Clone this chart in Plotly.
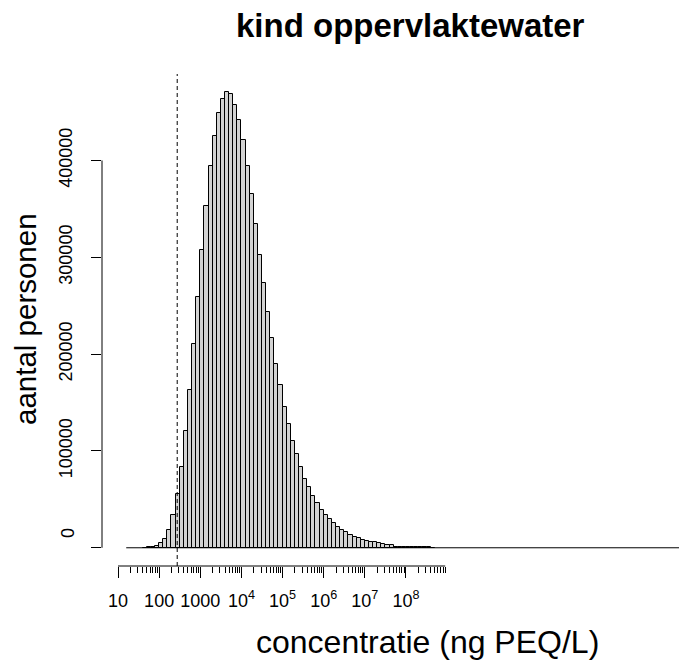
import numpy as np
import plotly.graph_objects as go

# ── DATA ────────────────────────────────────────────────────────
# histogram of log10(concentration), bins of 0.1 decade
bin_start = 1.6
bin_width = 0.1
counts = [100, 300, 900, 1800, 4500, 9300, 18000, 33500, 55800, 83700,
          120900, 162900, 210200, 259400, 307700, 353500, 394800, 425800,
          448800, 464000, 470500, 468800, 457000, 442300, 421100, 394000,
          365100, 334400, 302700, 273400, 243300, 216400, 190200, 167900,
          145100, 128200, 110600, 96500, 83700, 71300, 62400, 53400, 46500,
          39300, 34100, 29400, 25200, 21400, 18300, 15900, 13100, 11100,
          10000, 8300, 7200, 5900, 5600, 4500, 3800, 3100, 2500, 1300, 1200,
          1100, 1000, 600, 500, 400, 350, 300, 250]
breaks_lo = 1.2     # first break (empty bins drawn as baseline)
breaks_hi = 15.9    # last break
threshold = 275     # ng PEQ/L, dashed line

tick_pos = [1, 2, 3, 4, 5, 6, 7, 8]
tick_text = ['10', '100', '1000', '10<sup>4</sup>', '10<sup>5</sup>',
             '10<sup>6</sup>', '10<sup>7</sup>', '10<sup>8</sup>']
y_ticks = [0, 100000, 200000, 300000, 400000]

# ── FIGURE ──────────────────────────────────────────────────────
FONT = 'Liberation Sans, Arial, sans-serif'
centers = [bin_start + (i + 0.5) * bin_width for i in range(len(counts))]
minor_ticks = [k + np.log10(m) for k in range(1, 9) for m in range(2, 10)]

# page has an 8px body margin, so the plot box is placed 8px up/left
PW, PH = 593, 492          # plot area size in px
def px(x):  # screen x -> paper
    return (x - 102) / PW
def py(y):  # screen y -> paper
    return (566 - y) / PH

fig = go.Figure()
fig.add_trace(go.Scatter(
    x=[breaks_lo, breaks_hi], y=[0, 0], mode='lines',
    line=dict(color='black', width=1), hoverinfo='skip'
))
fig.add_trace(go.Bar(
    x=centers, y=counts, width=bin_width,
    marker=dict(color='#d3d3d3', line=dict(color='black', width=1))
))

# dashed threshold line
fig.add_shape(type='line', xref='x', yref='paper',
              x0=np.log10(threshold), x1=np.log10(threshold), y0=0, y1=1,
              line=dict(color='black', width=1, dash='4px,3px'))
# R-style axis lines, only over the tick range
fig.add_shape(type='line', xref='x', yref='paper',
              x0=tick_pos[0], x1=minor_ticks[-1], y0=0, y1=0,
              line=dict(color='black', width=1))
fig.add_shape(type='line', xref='paper', yref='y',
              x0=0, x1=0, y0=y_ticks[0], y1=y_ticks[-1],
              line=dict(color='black', width=1))

# R nudges the "0" label up, away from the x axis
y_text = ['' if v == 0 else str(v) for v in y_ticks]

fig.update_layout(
    width=687, height=660,
    margin=dict(l=94, r=0, t=66, b=102, autoexpand=False),
    plot_bgcolor='white', paper_bgcolor='white',
    showlegend=False, bargap=0,
    font=dict(family=FONT, color='black', size=18),
    xaxis=dict(
        range=[0.6111, 0.6111 + PW / 41.14], showgrid=False, zeroline=False,
        showline=False, tickmode='array', tickvals=tick_pos,
        ticktext=tick_text, ticks='outside', ticklen=11,
        tickcolor='black', ticklabelstandoff=7, automargin=False,
        tickfont=dict(size=18),
        minor=dict(tickmode='array', tickvals=minor_ticks,
                   ticks='outside', ticklen=6, tickcolor='black'),
    ),
    yaxis=dict(
        range=[-18820, 489320], showgrid=False, zeroline=False,
        showline=False, tickmode='array', tickvals=y_ticks,
        ticktext=y_text, ticks='outside', ticklen=10,
        tickcolor='black', tickangle=-90, ticklabelstandoff=12,
        automargin=False, tickfont=dict(size=18),
    ),
    annotations=[
        dict(text='<b>kind oppervlaktewater</b>', xref='paper', yref='paper',
             x=px(410), y=py(26), showarrow=False,
             xanchor='center', yanchor='middle', font=dict(size=33)),
        dict(text='concentratie (ng PEQ/L)', xref='paper', yref='paper',
             x=px(427), y=py(642), showarrow=False,
             xanchor='center', yanchor='middle', font=dict(size=32)),
        dict(text='aantal personen', xref='paper', yref='paper',
             x=px(25), y=py(319), showarrow=False,
             xanchor='center', yanchor='middle', textangle=-90,
             font=dict(size=29.5)),
        dict(text=str(y_ticks[0]), xref='paper', yref='paper',
             x=px(68), y=py(533), showarrow=False,
             xanchor='center', yanchor='middle', textangle=-90,
             font=dict(size=18)),
    ],
)

fig.write_html('out.html')
